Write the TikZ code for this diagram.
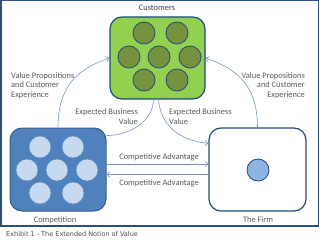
\documentclass[tikz,border=0pt]{standalone}
\usepackage{fontspec}
\setmainfont{Carlito}
\newfontfamily\capfont{DejaVu Sans}
\usetikzlibrary{arrows.meta,calc}
\definecolor{frameblue}{HTML}{2B4F7E}
\definecolor{custfill}{HTML}{92D050}
\definecolor{darkblue}{HTML}{1F497D}
\definecolor{olive}{HTML}{76923C}
\definecolor{olivedark}{HTML}{3F4F1E}
\definecolor{compfill}{HTML}{4F81BD}
\definecolor{compedge}{HTML}{385D8A}
\definecolor{lightblue}{HTML}{C6D9F1}
\definecolor{lightshadow}{HTML}{6F7680}
\definecolor{firmdot}{HTML}{8DB3E2}
\definecolor{firmdotdark}{HTML}{3E5F8F}
\definecolor{arrowblue}{HTML}{7295CC}
\definecolor{txt}{HTML}{595959}
\pgfdeclareradialshading{olivesh}{\pgfpoint{-4bp}{9bp}}{color(0bp)=(olive); color(36bp)=(olive); color(56bp)=(olivedark); color(80bp)=(olivedark)}
\pgfdeclareradialshading{lightsh}{\pgfpoint{-4bp}{9bp}}{color(0bp)=(lightblue); color(34bp)=(lightblue); color(58bp)=(lightshadow); color(80bp)=(lightshadow)}
\pgfdeclareradialshading{firmsh}{\pgfpoint{-4bp}{9bp}}{color(0bp)=(firmdot); color(36bp)=(firmdot); color(58bp)=(firmdotdark); color(80bp)=(firmdotdark)}
\tikzset{
  box/.style={rectangle, rounded corners=12pt, minimum width=96pt, minimum height=83pt, inner sep=0pt},
  custdot/.style={circle, minimum size=22pt, inner sep=0pt, shading=olivesh, draw=darkblue, line width=0.8pt},
  compdot/.style={circle, minimum size=22pt, inner sep=0pt, shading=lightsh, draw=compfill, line width=0.4pt},
  firmdotst/.style={circle, minimum size=22pt, inner sep=0pt, shading=firmsh, draw=darkblue, line width=0.8pt},
  lbl/.style={text=txt, font=\fontsize{8.4}{9.5}\selectfont, inner sep=0pt},
  conn/.style={draw=arrowblue, line width=0.6pt},
  tip/.style={-{Straight Barb[length=3pt,width=5.5pt]}}
}
\begin{document}
\begin{tikzpicture}[x=1pt,y=-1pt]
\useasboundingbox (0,0) rectangle (320,243);
\draw[frameblue, line width=1.1pt] (1,0.8) rectangle (318.8,226);
% boxes
\node[box, fill=custfill, draw=darkblue, line width=1.2pt, minimum width=95pt, minimum height=82pt] (cust) at (157.5,58) {};
\node[box, fill=compfill, draw=compedge, line width=1pt] (comp) at (58,169.5) {};
\node[box, fill=white, draw=darkblue, line width=1.2pt, minimum width=97pt] (firm) at (257.5,169.5) {};
% customer dots
\node[custdot] (c1) at (144,33) {};
\node[custdot] (c2) at (177,33) {};
\node[custdot] (c3) at (129,57) {};
\node[custdot] (c4) at (159,57) {};
\node[custdot] (c5) at (190,57) {};
\node[custdot] (c6) at (144,80) {};
\node[custdot] (c7) at (177,80) {};
% competition dots
\node[compdot] (k1) at (40,147) {};
\node[compdot] (k2) at (73,147) {};
\node[compdot] (k3) at (27,170) {};
\node[compdot] (k4) at (57,170) {};
\node[compdot] (k5) at (87,170) {};
\node[compdot] (k6) at (40,193) {};
\node[compdot] (k7) at (73,193) {};
% firm dot
\node[firmdotst] (f1) at (258,170) {};
% titles
\node[lbl, text=black!75] (tcust) at (157,8) {Customers};
\node[lbl] (tcomp) at (55,220) {Competition};
\node[lbl] (tfirm) at (258,220) {The Firm};
% connectors
\draw[conn, tip] (comp.north) .. controls +(0,-45) and +(-28,10) .. (cust.west);
\draw[conn, tip] (firm.north) .. controls +(0,-45) and +(28,10) .. (cust.east);
\draw[conn] ([xshift=-4pt]cust.south) .. controls +(0,20) and +(25,0) .. (comp.35);
\draw[conn, tip] ([xshift=1pt]cust.south) .. controls +(2,25) and +(-30,-3) .. (firm.152);
\draw[conn, tip] ([yshift=5.5pt]comp.east) -- ([yshift=5.5pt]firm.west);
\draw[conn, tip] ([yshift=-5pt]firm.west) -- ([yshift=-5pt]comp.east);
% labels
\node[lbl, anchor=west, align=left] (vpl) at (11,85.5) {Value Propositions\\and Customer\\Experience};
\node[lbl, anchor=east, align=right] (vpr) at (305,85.5) {Value Propositions\\and Customer\\Experience};
\node[lbl, anchor=east, align=right] (ebl) at (138,116.5) {Expected Business\\Value};
\node[lbl, anchor=west, align=left] (ebr) at (169,116.5) {Expected Business\\Value};
\node[lbl] (ca1) at (159,157) {Competitive Advantage};
\node[lbl] (ca2) at (159,183) {Competitive Advantage};
% caption
\node[anchor=west, inner sep=0pt, text=black!70, font=\capfont\fontsize{6.5}{7}\selectfont] (cap) at (6,234.5) {Exhibit 1 - The Extended Notion of Value};
\end{tikzpicture}
\end{document}
